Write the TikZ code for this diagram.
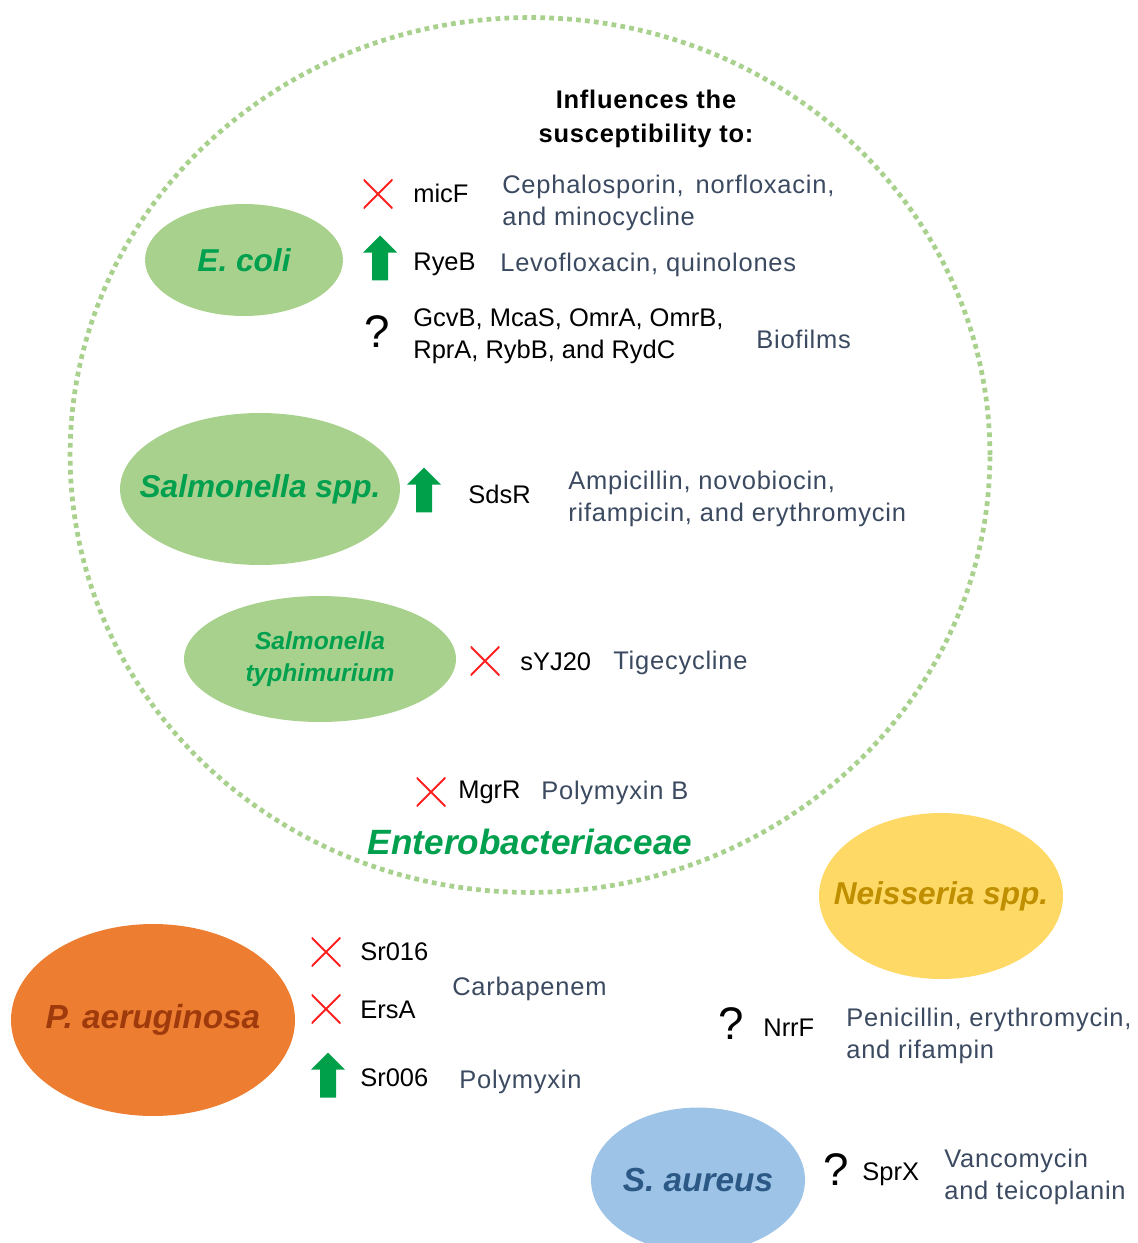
\documentclass[tikz,border=0pt]{standalone}
\usepackage{fontspec}
\setmainfont{Liberation Sans}
\newfontfamily\drugfont[LetterSpace=3]{Liberation Sans}
\usepackage{xcolor}
\usepackage{tikz}
\usetikzlibrary{shapes.geometric}
\definecolor{enterofill}{HTML}{A9D18E}
\definecolor{enterotext}{HTML}{00A04E}
\definecolor{pseudofill}{HTML}{ED7D31}
\definecolor{pseudotext}{HTML}{9E3A0C}
\definecolor{neissfill}{HTML}{FFD966}
\definecolor{neisstext}{HTML}{BF8F00}
\definecolor{staphfill}{HTML}{9DC3E6}
\definecolor{staphtext}{HTML}{2B5885}
\definecolor{drugslate}{HTML}{3B4A60}
\definecolor{knockred}{HTML}{FF2020}
\definecolor{upgreen}{HTML}{00A04B}

\begin{document}
\begin{tikzpicture}[
  x=0.02cm,y=-0.02cm,
  bug/.style={ellipse,inner xsep=-1cm,inner ysep=0pt,align=center,font=\fontsize{18}{21}\selectfont\bfseries\itshape},
  srna/.style={anchor=west,inner sep=0pt,align=left,font=\fontsize{14.5}{18.5}\selectfont,text=black},
  drug/.style={anchor=west,inner sep=0pt,align=left,font=\fontsize{14.5}{18.5}\drugfont,text=drugslate},
  nix/.style={minimum width=0.58cm,minimum height=0.58cm,inner sep=0pt,
    path picture={\draw[knockred,line width=1.1pt]
      (path picture bounding box.north west) -- (path picture bounding box.south east)
      (path picture bounding box.north east) -- (path picture bounding box.south west);}},
  upgo/.style={minimum width=0.68cm,minimum height=0.9cm,inner sep=0pt,
    path picture={\fill[upgreen] (path picture bounding box.north)
      -- ([yshift=-0.34cm]path picture bounding box.north east)
      -- ([xshift=0.16cm,yshift=-0.34cm]path picture bounding box.north)
      -- ([xshift=0.16cm]path picture bounding box.south)
      -- ([xshift=-0.16cm]path picture bounding box.south)
      -- ([xshift=-0.16cm,yshift=-0.34cm]path picture bounding box.north)
      -- ([yshift=-0.34cm]path picture bounding box.north west) -- cycle;}},
  unknown/.style={inner sep=0pt,font=\fontsize{26}{26}\selectfont}
]
\useasboundingbox (0,0) rectangle (1137,1243);

% Enterobacteriaceae
\node[ellipse,draw=enterofill,line width=2.7pt,dash pattern=on 2.7pt off 2.4pt,
  minimum width=18.4cm,minimum height=17.5cm] (entero) at (530,455) {};
\node[font=\fontsize{20}{24}\selectfont\bfseries\itshape,text=enterotext] (enterolbl) at (530,842) {Enterobacteriaceae};
\node[align=center,font=\fontsize{14.5}{19.5}\drugfont\bfseries] (head) at (646,119) {Influences the\\susceptibility to:};

\node[bug,fill=enterofill,text=enterotext,minimum width=3.96cm,minimum height=2.24cm] (ecoli) at (244,260) {E. coli};
\node[nix] (x1) at (378,194) {};
\node[srna] (micf) at (413,193) {micF};
\node[drug] (d1) at (502,203) {Cephalosporin,\,\ norfloxacin,\\and minocycline};
\node[upgo] (u1) at (380,258) {};
\node[srna] (ryeb) at (413,264) {RyeB};
\node[drug] (d2) at (500,265) {Levofloxacin, quinolones};
\node[unknown] (q1) at (377,332) {?};
\node[srna] (gcvb) at (413,336) {GcvB, McaS, OmrA, OmrB,\\RprA, RybB, and RydC};
\node[drug] (d3) at (756,339) {Biofilms};

\node[bug,fill=enterofill,text=enterotext,minimum width=5.6cm,minimum height=3.04cm] (salm) at (260,489) {Salmonella spp.};
\node[upgo] (u2) at (424,490) {};
\node[srna] (sdsr) at (468,494) {SdsR};
\node[drug] (d4) at (568,499) {Ampicillin, novobiocin,\\rifampicin, and erythromycin};

\node[bug,fill=enterofill,text=enterotext,minimum width=5.44cm,minimum height=2.52cm,
  font=\fontsize{14}{18.5}\selectfont\bfseries\itshape] (styph) at (320,659) {Salmonella\\typhimurium};
\node[nix] (x2) at (485,661) {};
\node[srna] (syj) at (520,662) {sYJ20};
\node[drug] (d5) at (613,663) {Tigecycline};

\node[nix] (x3) at (431,792) {};
\node[srna] (mgrr) at (458,792) {MgrR};
\node[drug] (d6) at (541,793) {Polymyxin B};

% P. aeruginosa
\node[bug,fill=pseudofill,text=pseudotext,minimum width=5.68cm,minimum height=3.84cm,
  font=\fontsize{19}{22}\selectfont\bfseries\itshape] (pae) at (153,1020) {P. aeruginosa};
\node[nix] (x4) at (326,952) {};
\node[srna] (sr016) at (360,952) {Sr016};
\node[nix] (x5) at (326,1009) {};
\node[srna] (ersa) at (360,1010) {ErsA};
\node[drug] (d7) at (452,989) {Carbapenem};
\node[upgo] (u3) at (328,1075) {};
\node[srna] (sr006) at (360,1078) {Sr006};
\node[drug] (d8) at (459,1082) {Polymyxin};

% Neisseria
\node[bug,fill=neissfill,text=neisstext,minimum width=4.88cm,minimum height=3.32cm] (neis) at (941,896) {Neisseria spp.};
\node[unknown] (q2) at (731,1024) {?};
\node[srna] (nrrf) at (763,1028) {NrrF};
\node[drug] (d9) at (846,1036) {Penicillin, erythromycin,\\and rifampin};

% S. aureus
\node[bug,fill=staphfill,text=staphtext,minimum width=4.28cm,minimum height=2.9cm,
  font=\fontsize{19}{22}\selectfont\bfseries\itshape] (saur) at (698,1180) {S. aureus};
\node[unknown] (q3) at (836,1170) {?};
\node[srna] (sprx) at (862,1174) {SprX};
\node[drug] (d10) at (944,1177) {Vancomycin\\and teicoplanin};
\end{tikzpicture}
\end{document}
